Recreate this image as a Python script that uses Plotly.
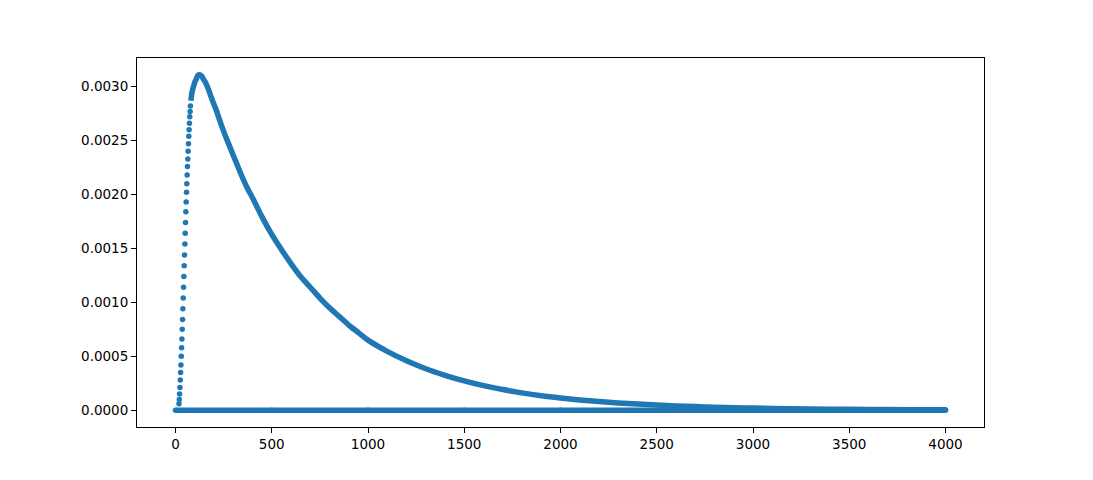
import plotly.graph_objects as go

BLUE = "#1f77b4"

# Rising flank: individual dots
rise_x = [18.0, 19.7, 21.4, 23.1, 24.8, 26.5, 28.2, 29.9, 31.6, 33.3, 35.0, 36.7,
          38.4, 40.1, 41.8, 43.5, 45.2, 46.9, 48.6, 50.3, 52.0, 53.7, 55.4, 57.1,
          58.8, 60.5, 62.2, 63.9, 65.6, 67.3, 69.0, 70.7, 72.4, 74.1, 75.8, 77.5]
rise_y = [0.00006, 0.00010, 0.00015, 0.00021, 0.00028, 0.00035, 0.00042, 0.00050,
          0.00058, 0.00066, 0.00075, 0.00084, 0.00094, 0.00104, 0.00114, 0.00124,
          0.00134, 0.00144, 0.00154, 0.00164, 0.00174, 0.00184, 0.00193, 0.00202,
          0.00210, 0.00218, 0.00226, 0.00233, 0.00240, 0.00247, 0.00254, 0.00260,
          0.00266, 0.00272, 0.00277, 0.00282]

# Peak and decaying tail (dense dots)
tail_x = [80, 84, 90, 95, 100, 105, 110, 115, 120, 127, 135, 145, 155, 170, 190,
          210, 235, 260, 285, 310, 340, 370, 400, 450, 500, 550, 600, 650, 700,
          750, 800, 850, 900, 950, 1000, 1100, 1200, 1300, 1400, 1500, 1600,
          1700, 1800, 1900, 2000, 2100, 2200, 2300, 2400, 2500, 2600, 2700, 2800,
          2900, 3000, 3200, 3400, 3600, 3800, 4000]
tail_y = [0.00287, 0.00293, 0.00298, 0.00301, 0.00304, 0.00306, 0.00308, 0.00310,
          0.00311, 0.00311, 0.00310, 0.00307, 0.00304, 0.00298, 0.00288,
          0.00279, 0.00266, 0.00254, 0.00243, 0.00232, 0.00219, 0.00207, 0.00197,
          0.00179, 0.00163, 0.00149, 0.00136, 0.00124, 0.00114, 0.00104, 0.00095,
          0.00087, 0.00079, 0.00072, 0.00065, 0.000546, 0.000459, 0.000385,
          0.000324, 0.000272, 0.000228, 0.000192, 0.000161, 0.000135, 0.000114,
          0.0000957, 0.0000804, 0.0000675, 0.0000567, 0.0000477, 0.0000400,
          0.0000336, 0.0000282, 0.0000237, 0.0000199, 0.0000141, 0.0000099,
          0.0000070, 0.0000049, 0.0000035]

# Flat series at zero
zero_x = [0, 500, 1000, 1500, 2000, 2500, 3000, 3500, 4000]
zero_y = [0, 0, 0, 0, 0, 0, 0, 0, 0]

x_ticks = [0, 500, 1000, 1500, 2000, 2500, 3000, 3500, 4000]
y_ticks = [0.0, 0.0005, 0.0010, 0.0015, 0.0020, 0.0025, 0.0030]

MS = 5.5

fig = go.Figure()
fig.add_trace(go.Scatter(x=zero_x, y=zero_y, mode="lines+markers",
                         line=dict(color=BLUE, width=MS),
                         marker=dict(color=BLUE, size=MS), showlegend=False,
                         hoverinfo="skip"))
fig.add_trace(go.Scatter(x=tail_x, y=tail_y, mode="lines",
                         line=dict(color=BLUE, width=MS, shape="spline",
                                   smoothing=0.8),
                         showlegend=False, hoverinfo="skip"))
fig.add_trace(go.Scatter(x=[tail_x[-1]], y=[tail_y[-1]], mode="markers",
                         marker=dict(color=BLUE, size=MS), showlegend=False,
                         hoverinfo="skip"))
fig.add_trace(go.Scatter(x=rise_x, y=rise_y, mode="markers",
                         marker=dict(color=BLUE, size=MS), showlegend=False,
                         hoverinfo="skip"))

peak = max(tail_y)
pad = 0.05 * peak

axis_common = dict(showline=True, linecolor="black", linewidth=1, mirror=True,
                   ticks="outside", ticklen=5, tickwidth=1, tickcolor="black",
                   showgrid=False, zeroline=False,
                   tickfont=dict(family="DejaVu Sans", size=13.5, color="black"))

fig.update_layout(
    width=1085, height=472,
    margin=dict(l=129, r=109, t=50, b=53),
    paper_bgcolor="white", plot_bgcolor="white",
    xaxis=dict(range=[-200, 4200], tickvals=x_ticks,
               ticktext=[str(v) for v in x_ticks], **axis_common),
    yaxis=dict(range=[-pad, peak + pad], tickvals=y_ticks,
               ticktext=["%.4f" % v for v in y_ticks], **axis_common),
    hovermode=False,
)

fig.write_html("out.html", config={"displayModeBar": False})
